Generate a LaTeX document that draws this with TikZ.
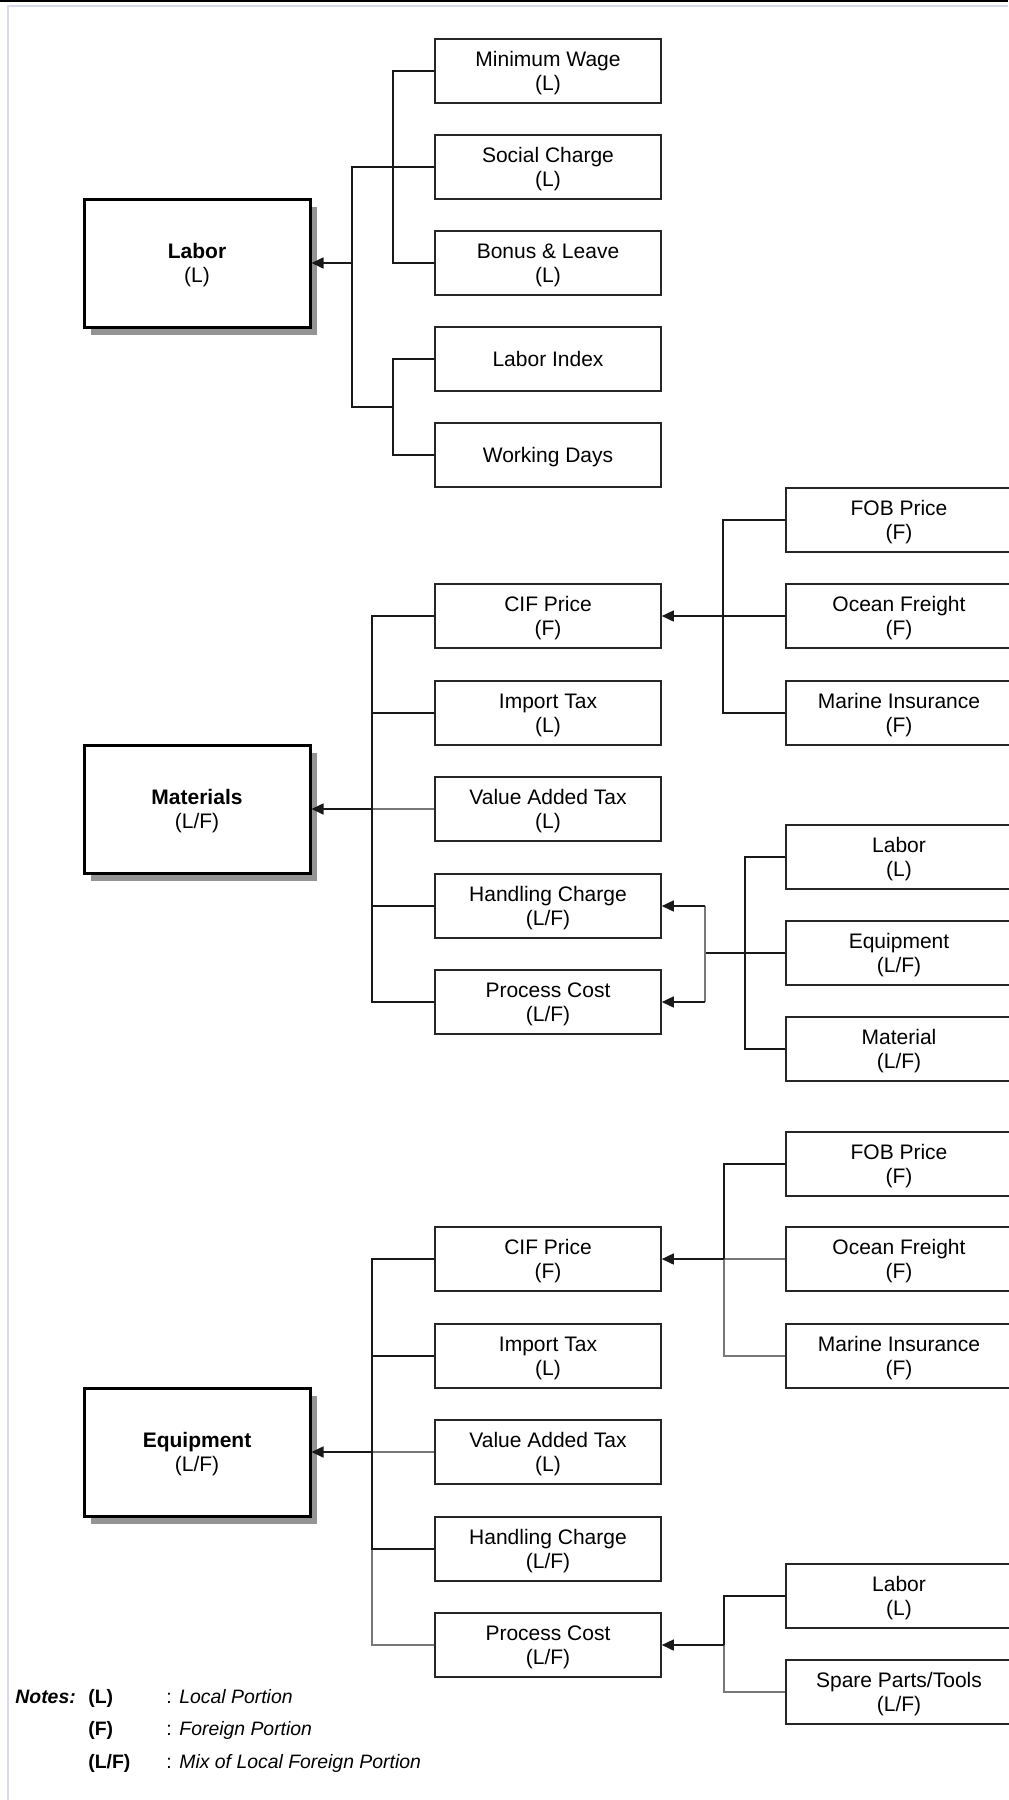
\documentclass[tikz,border=0pt]{standalone}
\usepackage{fontspec}
\setmainfont{Liberation Sans}
\usetikzlibrary{arrows.meta,shadows}
\definecolor{framegray}{RGB}{214,218,236}
\definecolor{linegray}{RGB}{120,120,120}

\tikzset{
  item/.style={draw=black!85, line width=0.8pt, minimum width=113pt, minimum height=32pt,
    inner sep=1pt, align=center, text depth=-1.2pt, font=\fontsize{10.5}{12}\selectfont},
  cost/.style={draw=black, line width=1.5pt, fill=white, minimum width=113pt, minimum height=64pt,
    align=center, text depth=-1.2pt, font=\fontsize{10.5}{12}\selectfont,
    drop shadow={shadow xshift=3.5pt, shadow yshift=-4pt, fill=black!42, opacity=1}},
  link/.style={line width=0.8pt, black!90},
  faint/.style={line width=0.8pt, linegray},
  arr/.style={link, -{Triangle[length=6pt,width=5.5pt]}},
  note/.style={anchor=base west, inner sep=0pt, font=\fontsize{9.7}{11}\selectfont},
}

\begin{document}
\begin{tikzpicture}[x=0.5pt, y=-0.5pt]
% page and frame
\useasboundingbox (0,0) rectangle (1008,1800);
\draw[black, line width=1pt] (0,1) -- (1008,1);
\draw[framegray, line width=1pt] (8,1800) -- (8,6) -- (1008,6);

% ---------------- Labor ----------------
\node[cost] (labor) at (197,263) {\textbf{Labor}\\(L)};
\node[item] (minwage) at (548,71)  {Minimum Wage\\(L)};
\node[item] (social)  at (548,167) {Social Charge\\(L)};
\node[item] (bonus)   at (548,263) {Bonus \& Leave\\(L)};
\node[item] (lindex)  at (548,359) {Labor Index};
\node[item] (wdays)   at (548,455) {Working Days};

\coordinate (lbus) at (352,263);
\coordinate (llow) at (394,407);
\draw[link] (minwage.west) -- ++(-41,0) |- (bonus.west);
\draw[link] (lindex.west) -- ++(-41,0) |- (wdays.west);
\draw[link] (social.west) -| (lbus) |- (llow);
\draw[arr] (lbus) -- (labor.east);

% ---------------- Materials ----------------
\node[cost] (mat) at (197,809) {\textbf{Materials}\\(L/F)};
\node[item] (mcif)  at (548,616)  {CIF Price\\(F)};
\node[item] (mimp)  at (548,713)  {Import Tax\\(L)};
\node[item] (mvat)  at (548,809)  {Value Added Tax\\(L)};
\node[item] (mhand) at (548,906)  {Handling Charge\\(L/F)};
\node[item] (mproc) at (548,1002) {Process Cost\\(L/F)};

\node[item] (mfob)   at (899,520) {FOB Price\\(F)};
\node[item] (mocean) at (899,616) {Ocean Freight\\(F)};
\node[item] (mmar)   at (899,713) {Marine Insurance\\(F)};

\node[item] (mlab) at (899,857)  {Labor\\(L)};
\node[item] (mequ) at (899,953)  {Equipment\\(L/F)};
\node[item] (mmat) at (899,1049) {Material\\(L/F)};

\coordinate (mbus) at (373,809);
\draw[faint] (mvat.west) -- (mbus);
\draw[link] (mcif.west) -- ++(-62,0) |- (mproc.west);
\draw[link] (mimp.west) -- ++(-62,0);
\draw[link] (mhand.west) -- ++(-62,0);
\draw[arr] (mbus) -- (mat.east);

\draw[link] (mfob.west) -- ++(-62,0) |- (mmar.west);
\draw[arr] (mocean.west) -- (mcif.east);

\coordinate (msplit) at (705,953);
\draw[link] (mlab.west) -- ++(-40,0) |- (mmat.west);
\draw[link] (mequ.west) -- (msplit);
\draw[faint] (msplit |- mhand.east) -- (msplit |- mproc.east);
\draw[arr] (msplit |- mhand.east) -- (mhand.east);
\draw[arr] (msplit |- mproc.east) -- (mproc.east);

% ---------------- Equipment ----------------
\node[cost] (equip) at (197,1452) {\textbf{Equipment}\\(L/F)};
\node[item] (ecif)  at (548,1259) {CIF Price\\(F)};
\node[item] (eimp)  at (548,1356) {Import Tax\\(L)};
\node[item] (evat)  at (548,1452) {Value Added Tax\\(L)};
\node[item] (ehand) at (548,1549) {Handling Charge\\(L/F)};
\node[item] (eproc) at (548,1645) {Process Cost\\(L/F)};

\node[item] (efob)   at (899,1164) {FOB Price\\(F)};
\node[item] (eocean) at (899,1259) {Ocean Freight\\(F)};
\node[item] (emar)   at (899,1356) {Marine Insurance\\(F)};

\node[item] (elab)   at (899,1596) {Labor\\(L)};
\node[item] (espare) at (899,1692) {Spare Parts/Tools\\(L/F)};

\coordinate (ebus) at (373,1452);
\draw[faint] (evat.west) -- (ebus);
\draw[faint] (ehand.west) ++(-62,0) |- (eproc.west);
\draw[link] (ecif.west) -- ++(-62,0) |- (ehand.west);
\draw[link] (eimp.west) -- ++(-62,0);
\draw[arr] (ebus) -- (equip.east);

\coordinate (erbus) at (724,1259);
\draw[faint] (eocean.west) -- (erbus) |- (emar.west);
\draw[link] (efob.west) -| (erbus);
\draw[arr] (erbus) -- (ecif.east);

\coordinate (epbus) at (724,1645);
\draw[faint] (epbus) |- (espare.west);
\draw[link] (elab.west) -| (epbus);
\draw[arr] (epbus) -- (eproc.east);

% ---------------- Notes ----------------
\node[note] (notes) at (15,1703)  {\bfseries\itshape Notes:};
\node[note] (nl)    at (88,1703)  {\bfseries (L)};
\node[note] (nf)    at (88,1735)  {\bfseries (F)};
\node[note] (nlf)   at (88,1768)  {\bfseries (L/F)};
\node[note] (nlc)   at (166,1703) {:};
\node[note] (nfc)   at (166,1735) {:};
\node[note] (nlfc)  at (166,1768) {:};
\node[note] (nlt)   at (179,1703) {\itshape Local Portion};
\node[note] (nft)   at (179,1735) {\itshape Foreign Portion};
\node[note] (nlft)  at (179,1768) {\itshape Mix of Local Foreign Portion};
\end{tikzpicture}
\end{document}
